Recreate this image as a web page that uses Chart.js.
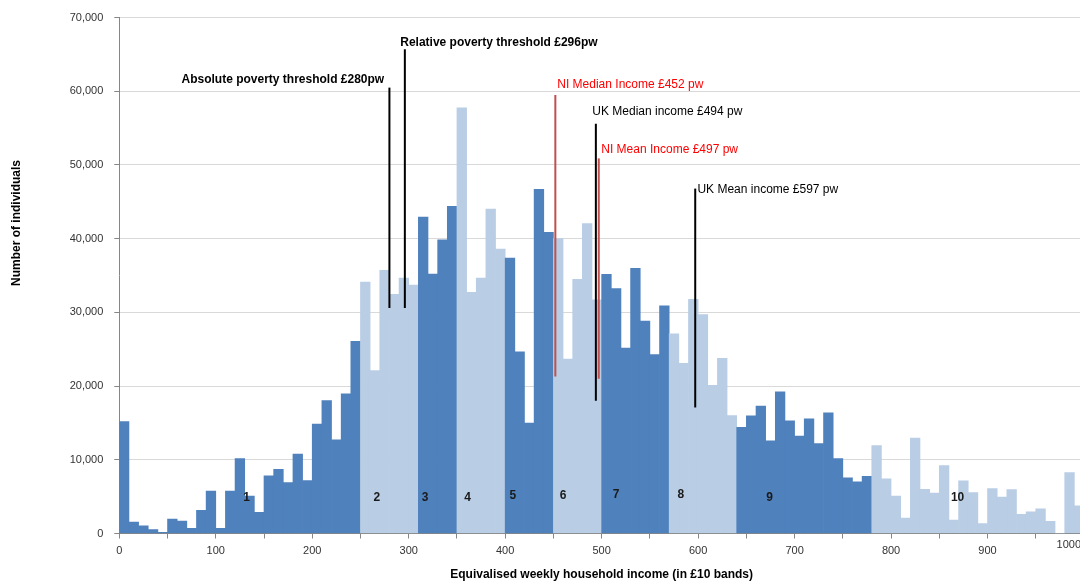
<!DOCTYPE html>
<html>
<head>
<meta charset="utf-8">
<title>Equivalised weekly household income</title>
<script src="https://cdn.jsdelivr.net/npm/chart.js@4.4.1/dist/chart.umd.min.js"></script>
<style>
  html, body { margin: 0; padding: 0; background: #fff; overflow: hidden; }
  #wrap { width: 1084px; height: 584px; }
</style>
</head>
<body>
<div id="wrap"><canvas id="incomeChart" width="1084" height="584"></canvas></div>
<script>
// £10 income bands (lower edge of each band)
const bandStart = [
    0, 10, 20, 30, 40, 50, 60, 70, 80, 90,
    100, 110, 120, 130, 140, 150, 160, 170, 180, 190,
    200, 210, 220, 230, 240, 250, 260, 270, 280, 290,
    300, 310, 320, 330, 340, 350, 360, 370, 380, 390,
    400, 410, 420, 430, 440, 450, 460, 470, 480, 490,
    500, 510, 520, 530, 540, 550, 560, 570, 580, 590,
    600, 610, 620, 630, 640, 650, 660, 670, 680, 690,
    700, 710, 720, 730, 740, 750, 760, 770, 780, 790,
    800, 810, 820, 830, 840, 850, 860, 870, 880, 890,
    900, 910, 920, 930, 940, 950, 960, 970, 980, 990
];
const bandWidth = 10;

// number of individuals in each band
const individuals = [
    15200, 1550, 1050, 520, 150, 1960, 1690, 700, 3130, 5740,
    700, 5740, 10160, 5070, 2860, 7810, 8720, 6910, 10790, 7180,
    14840, 18040, 12720, 18940, 26060, 34120, 22100, 35700, 32460, 34660,
    33720, 42950, 35200, 39840, 44390, 57770, 32730, 34660, 44030, 38580,
    37360, 24660, 14980, 46690, 40880, 40020, 23650, 34500, 42050, 31690,
    35160, 33220, 25160, 35970, 28810, 24260, 30880, 27090, 23080, 31780,
    29700, 20110, 23760, 16000, 14390, 15950, 17300, 12590, 19210, 15290,
    13220, 15560, 12190, 16380, 10160, 7540, 7000, 7770, 11920, 7410,
    5070, 2090, 12950, 6010, 5470, 9210, 1820, 7140, 5560, 1330,
    6100, 4930, 5970, 2590, 2950, 3360, 1650, 0, 8270, 3760
];

// deciles: first band of each decile, and where its number is written
const decileStart = [0, 250, 310, 350, 400, 450, 500, 570, 640, 780];
const decileNames = ['1', '2', '3', '4', '5', '6', '7', '8', '9', '10'];
const decileLabelX = [132, 267, 317, 361, 408, 460, 515, 582, 674, 869];
const decileLabelY = [4900, 4900, 4800, 4900, 5100, 5100, 5300, 5300, 4900, 4900];

// reference lines
const thresholdNames = [
    'Absolute poverty threshold £280pw',
    'Relative poverty threshold £296pw',
    'NI Median Income £452 pw',
    'UK Median income £494 pw',
    'NI Mean Income £497 pw',
    'UK Mean income £597 pw'
];
const thresholdValues = [280, 296, 452, 494, 497, 597];
const thresholdTop = [60500, 65700, 59500, 55600, 50900, 46800];
const thresholdBottom = [30600, 30600, 21300, 18000, 21000, 17100];
const thresholdLabelX = [274.6, 291.2, 454, 490.3, 499.6, 599.3];
const thresholdLabelY = [61550, 66550, 60880, 57230, 52090, 46690];

const xTickLabels = [0, 100, 200, 300, 400, 500, 600, 700, 800, 900, 1000];
const yMax = 70000;
const yStep = 10000;

const FONT = '"Liberation Sans", Arial, sans-serif';
const DARK = '#4F81BD';
const LIGHT = '#B9CDE5';
const AXIS = '#868686';

// NI lines are red, the two poverty labels are bold
const thresholdStyle = [
    { line: '#000000', text: '#000000', bold: true, align: 'right' },
    { line: '#000000', text: '#000000', bold: true, align: 'left' },
    { line: '#C0504D', text: '#FF0000', bold: false, align: 'left' },
    { line: '#000000', text: '#000000', bold: false, align: 'left' },
    { line: '#C0504D', text: '#FF0000', bold: false, align: 'left' },
    { line: '#000000', text: '#000000', bold: false, align: 'left' }
];

function decileOf(start) {
    let d = 0;
    decileStart.forEach((s, i) => { if (start >= s) d = i; });
    return d;
}

const barColors = bandStart.map(s => decileOf(s) % 2 === 0 ? DARK : LIGHT);

const overlay = {
    id: 'overlay',
    afterDatasetsDraw(chart) {
        const { ctx, chartArea, scales: { x, y } } = chart;
        ctx.save();

        // decile numbers
        ctx.font = `bold 12px ${FONT}`;
        ctx.fillStyle = '#1a1a1a';
        ctx.textAlign = 'center';
        ctx.textBaseline = 'middle';
        decileNames.forEach((n, i) => {
            ctx.fillText(n, x.getPixelForValue(decileLabelX[i]), y.getPixelForValue(decileLabelY[i]));
        });

        // threshold lines and their labels
        thresholdValues.forEach((v, i) => {
            const st = thresholdStyle[i];
            const px = x.getPixelForValue(v);
            ctx.strokeStyle = st.line;
            ctx.lineWidth = 2;
            ctx.beginPath();
            ctx.moveTo(px, y.getPixelForValue(thresholdTop[i]));
            ctx.lineTo(px, y.getPixelForValue(thresholdBottom[i]));
            ctx.stroke();

            ctx.font = `${st.bold ? 'bold ' : ''}12px ${FONT}`;
            ctx.fillStyle = st.text;
            ctx.textAlign = st.align;
            ctx.fillText(thresholdNames[i], x.getPixelForValue(thresholdLabelX[i]), y.getPixelForValue(thresholdLabelY[i]));
        });

        // last x tick label sits inside the edge
        ctx.font = `11px ${FONT}`;
        ctx.fillStyle = '#333';
        ctx.textAlign = 'right';
        const last = xTickLabels[xTickLabels.length - 1];
        ctx.fillText(String(last), x.getPixelForValue(last) - 3, 545);

        // axis titles
        ctx.font = `bold 12px ${FONT}`;
        ctx.fillStyle = '#000';
        ctx.textAlign = 'center';
        ctx.fillText('Equivalised weekly household income (in £10 bands)', (chartArea.left + chartArea.right) / 2, 575);
        ctx.translate(17, 223);
        ctx.rotate(-Math.PI / 2);
        ctx.fillText('Number of individuals', 0, 0);

        ctx.restore();
    }
};

document.addEventListener('DOMContentLoaded', () => {
    const ctx = document.getElementById('incomeChart').getContext('2d');

    new Chart(ctx, {
        type: 'bar',
        data: {
            datasets: [{
                label: 'Number of individuals',
                data: bandStart.map((s, i) => ({ x: s + bandWidth / 2, y: individuals[i] })),
                backgroundColor: barColors,
                borderWidth: 0,
                barPercentage: 1,
                categoryPercentage: 1
            }]
        },
        options: {
            responsive: false,
            animation: false,
            events: [],
            layout: { padding: { top: 15.5, left: 0, right: 0, bottom: 0 } },
            scales: {
                x: {
                    type: 'linear',
                    min: 0,
                    max: 1000,
                    offset: false,
                    grid: { offset: false, drawOnChartArea: false, drawTicks: true, tickLength: 5, tickColor: AXIS },
                    border: { color: AXIS },
                    ticks: {
                        stepSize: 50,
                        maxTicksLimit: 30,
                        autoSkip: false,
                        maxRotation: 0,
                        padding: 6,
                        color: '#333',
                        font: { family: FONT, size: 11 },
                        callback: v => (xTickLabels.includes(v) && v !== xTickLabels[xTickLabels.length - 1]) ? String(v) : ''
                    },
                    afterFit: s => { s.height = 50.5; s.paddingLeft = 0; s.paddingRight = 0; }
                },
                y: {
                    min: 0,
                    max: yMax,
                    grid: { color: '#D9D9D9', tickColor: AXIS, tickLength: 5 },
                    border: { color: AXIS },
                    ticks: {
                        stepSize: yStep,
                        padding: 11,
                        color: '#333',
                        font: { family: FONT, size: 11 },
                        callback: v => v.toLocaleString('en-GB')
                    },
                    afterFit: s => { s.width = 119.3; }
                }
            },
            plugins: {
                legend: { display: false },
                tooltip: { enabled: false }
            }
        },
        plugins: [overlay]
    });
});
</script>
</body>
</html>
